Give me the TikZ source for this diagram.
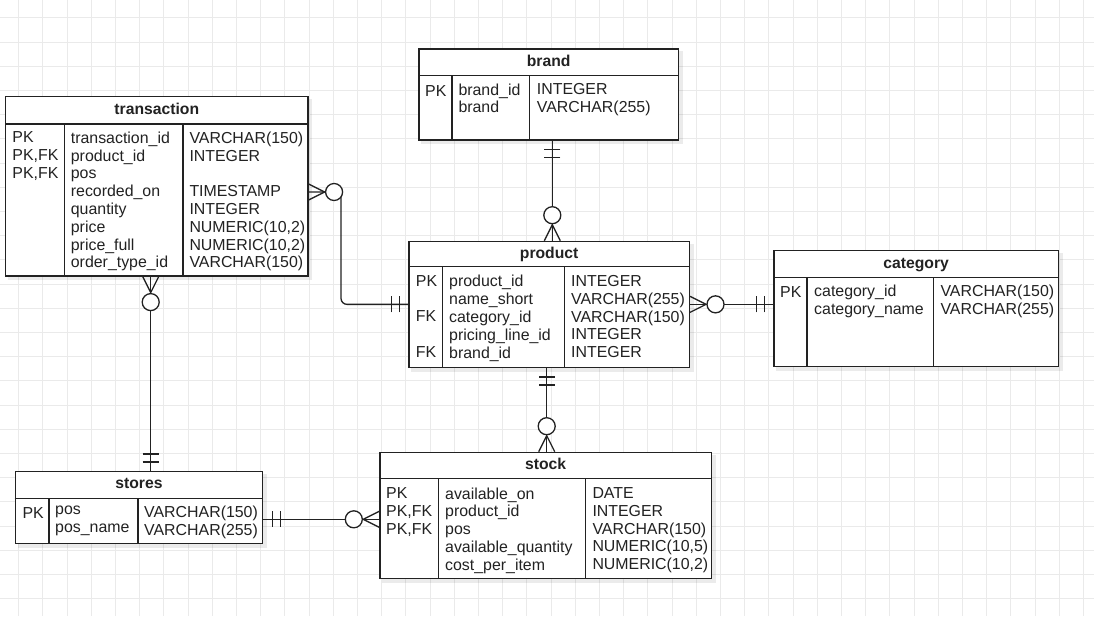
\documentclass[tikz,border=0pt]{standalone}
\usepackage{fontspec}
\setmainfont{Liberation Sans}
\usetikzlibrary{calc}
\definecolor{ink}{HTML}{222222}
\definecolor{gridc}{HTML}{EAEAEA}

% Entity table: name, left, top, width, height, header height, 1st divider, 2nd divider
\newcommand\ertable[8]{%
  \fill[shade] (#2+3,#3+3) rectangle ++(#4+2,#5+2);
  \node[tbl, minimum width=#4pt, minimum height=#5pt] (#1) at (#2,#3) {};
  \draw[rule] ($(#1.north west)+(0,#6)$) -- ($(#1.north east)+(0,#6)$);
  \draw[rule] ($(#1.north west)+(#7,#6)$) -- ($(#1.south west)+(#7,0)$);
  \draw[rule] ($(#1.north west)+(#8,#6)$) -- ($(#1.south west)+(#8,0)$);
  \node[title] (#1-title) at ($(#1.north)+(0,#6/2+4.3)$) {#1};
}

\begin{document}
\begin{tikzpicture}[x=1pt,y=-1pt,
  tbl/.style={draw=ink, line width=1.3pt, fill=white, inner sep=0pt, anchor=north west},
  rule/.style={draw=ink, line width=1.3pt},
  title/.style={font=\fontsize{15.7}{17.8}\selectfont\bfseries, text=ink, inner sep=0pt, anchor=base},
  col/.style={font=\fontsize{15.9}{17.8}\selectfont, text=ink, align=left, inner sep=0pt,
              anchor=north west, yshift=-1.6pt, execute at begin node=\strut},
  conn/.style={draw=ink, line width=1.3pt},
  shade/.style={fill=black, fill opacity=0.08},
  gridline/.style={draw=gridc, line width=0.8pt},
  mandone/.pic={\draw[conn] (9,-8) -- (9,8) (17,-8) -- (17,8);},
  zeromany/.pic={\draw[conn] (0,-8) -- (16,0) -- (0,8);
                 \draw[conn, fill=white] (25.5,0) circle[radius=8.5pt];},
]
% canvas and background grid
\fill[white] (0,0) rectangle (1094,616);
\useasboundingbox (0,0) rectangle (1094,616);
\foreach \i in {0,...,44} \draw[gridline] (18.5+\i*24.2,0) -- (18.5+\i*24.2,616);
\foreach \j in {0,...,24} \draw[gridline] (0,17.8+\j*24.2) -- (1094,17.8+\j*24.2);

% ---------- transaction ----------
\ertable{transaction}{5}{96}{302.3}{179.3}{28}{59.3}{178}
\node[col] (transaction-keys) at ($(transaction.north west)+(7.3,34.0)$) {PK\\PK,FK\\PK,FK};
\node[col] (transaction-names) at ($(transaction.north west)+(65.7,34.0)$)
  {transaction\_id\\product\_id\\pos\\recorded\_on\\quantity\\price\\price\_full\\order\_type\_id};
\node[col] (transaction-types) at ($(transaction.north west)+(184.3,34.0)$)
  {VARCHAR(150)\\INTEGER\\\strut\\TIMESTAMP\\INTEGER\\NUMERIC(10,2)\\NUMERIC(10,2)\\VARCHAR(150)};

% ---------- brand ----------
\ertable{brand}{418.3}{48.3}{259.4}{91}{27.4}{33.7}{111.4}
\node[col] (brand-keys) at ($(brand.north west)+(6.7,33.5)$) {PK};
\node[col] (brand-names) at ($(brand.north west)+(40,33.5)$) {brand\_id\\brand};
\node[col] (brand-types) at ($(brand.north west)+(118.4,33.5)$) {INTEGER\\VARCHAR(255)};

% ---------- product ----------
\ertable{product}{408.3}{240.7}{280.4}{126}{26}{34}{156.4}
\node[col] (product-keys) at ($(product.north west)+(7.4,32.8)$) {PK\\\strut\\FK\\\strut\\FK};
\node[col] (product-names) at ($(product.north west)+(40.7,32.8)$)
  {product\_id\\name\_short\\category\_id\\pricing\_line\_id\\brand\_id};
\node[col] (product-types) at ($(product.north west)+(162.7,32.8)$)
  {INTEGER\\VARCHAR(255)\\VARCHAR(150)\\INTEGER\\INTEGER};

% ---------- category ----------
\ertable{category}{773.3}{250}{284.4}{115.7}{27.7}{33.7}{160.4}
\node[col] (category-keys) at ($(category.north west)+(6.7,33.5)$) {PK};
\node[col] (category-names) at ($(category.north west)+(40.7,33.5)$) {category\_id\\category\_name};
\node[col] (category-types) at ($(category.north west)+(167,33.5)$) {VARCHAR(150)\\VARCHAR(255)};

% ---------- stock ----------
\ertable{stock}{379.3}{451.7}{331.4}{126}{26.6}{59.4}{206.4}
\node[col] (stock-keys) at ($(stock.north west)+(6.7,34.1)$) {PK\\PK,FK\\PK,FK};
\node[col] (stock-names) at ($(stock.north west)+(65.7,34.1)$)
  {available\_on\\product\_id\\pos\\available\_quantity\\cost\_per\_item};
\node[col] (stock-types) at ($(stock.north west)+(213,34.1)$)
  {DATE\\INTEGER\\VARCHAR(150)\\NUMERIC(10,5)\\NUMERIC(10,2)};

% ---------- stores ----------
\ertable{stores}{14.7}{471}{247.3}{72}{27.3}{34.3}{123.3}
\node[col] (stores-keys) at ($(stores.north west)+(7.6,33.2)$) {PK};
\node[col] (stores-names) at ($(stores.north west)+(40.3,33.2)$) {pos\\pos\_name};
\node[col] (stores-types) at ($(stores.north west)+(129.3,33.2)$) {VARCHAR(150)\\VARCHAR(255)};

% ---------- relationships ----------
\coordinate (bpx) at (552.3,0);
\coordinate (psx) at (546.7,0);
\coordinate (tpy) at (0,192);
\coordinate (tpx) at (341,0);
\coordinate (tsx) at (150.7,0);
\coordinate (ssy) at (0,519.3);

% brand 1 -- 0..n product
\draw[conn] (brand.south -| bpx) -- (product.north -| bpx);
\pic[rotate=-90] at (brand.south -| bpx) {mandone};
\pic[rotate=90] at (product.north -| bpx) {zeromany};

% product 1 -- 0..n stock
\draw[conn] (product.south -| psx) -- (stock.north -| psx);
\pic[rotate=-90] at (product.south -| psx) {mandone};
\pic[rotate=90] at (stock.north -| psx) {zeromany};

% category 1 -- 0..n product
\draw[conn] (product.east) -- (product.east -| category.west);
\pic at (product.east) {zeromany};
\pic[rotate=180] at (product.east -| category.west) {mandone};

% product 1 -- 0..n transaction
\draw[conn, rounded corners=6pt] (transaction.east |- tpy) -| (tpx |- product.west) -- (product.west);
\pic at (transaction.east |- tpy) {zeromany};
\pic[rotate=180] at (product.west) {mandone};

% stores 1 -- 0..n transaction
\draw[conn] (transaction.south -| tsx) -- (stores.north -| tsx);
\pic[rotate=-90] at (transaction.south -| tsx) {zeromany};
\pic[rotate=90] at (stores.north -| tsx) {mandone};

% stores 1 -- 0..n stock
\draw[conn] (stores.east |- ssy) -- (stock.west |- ssy);
\pic at (stores.east |- ssy) {mandone};
\pic[rotate=180] at (stock.west |- ssy) {zeromany};
\end{tikzpicture}
\end{document}
